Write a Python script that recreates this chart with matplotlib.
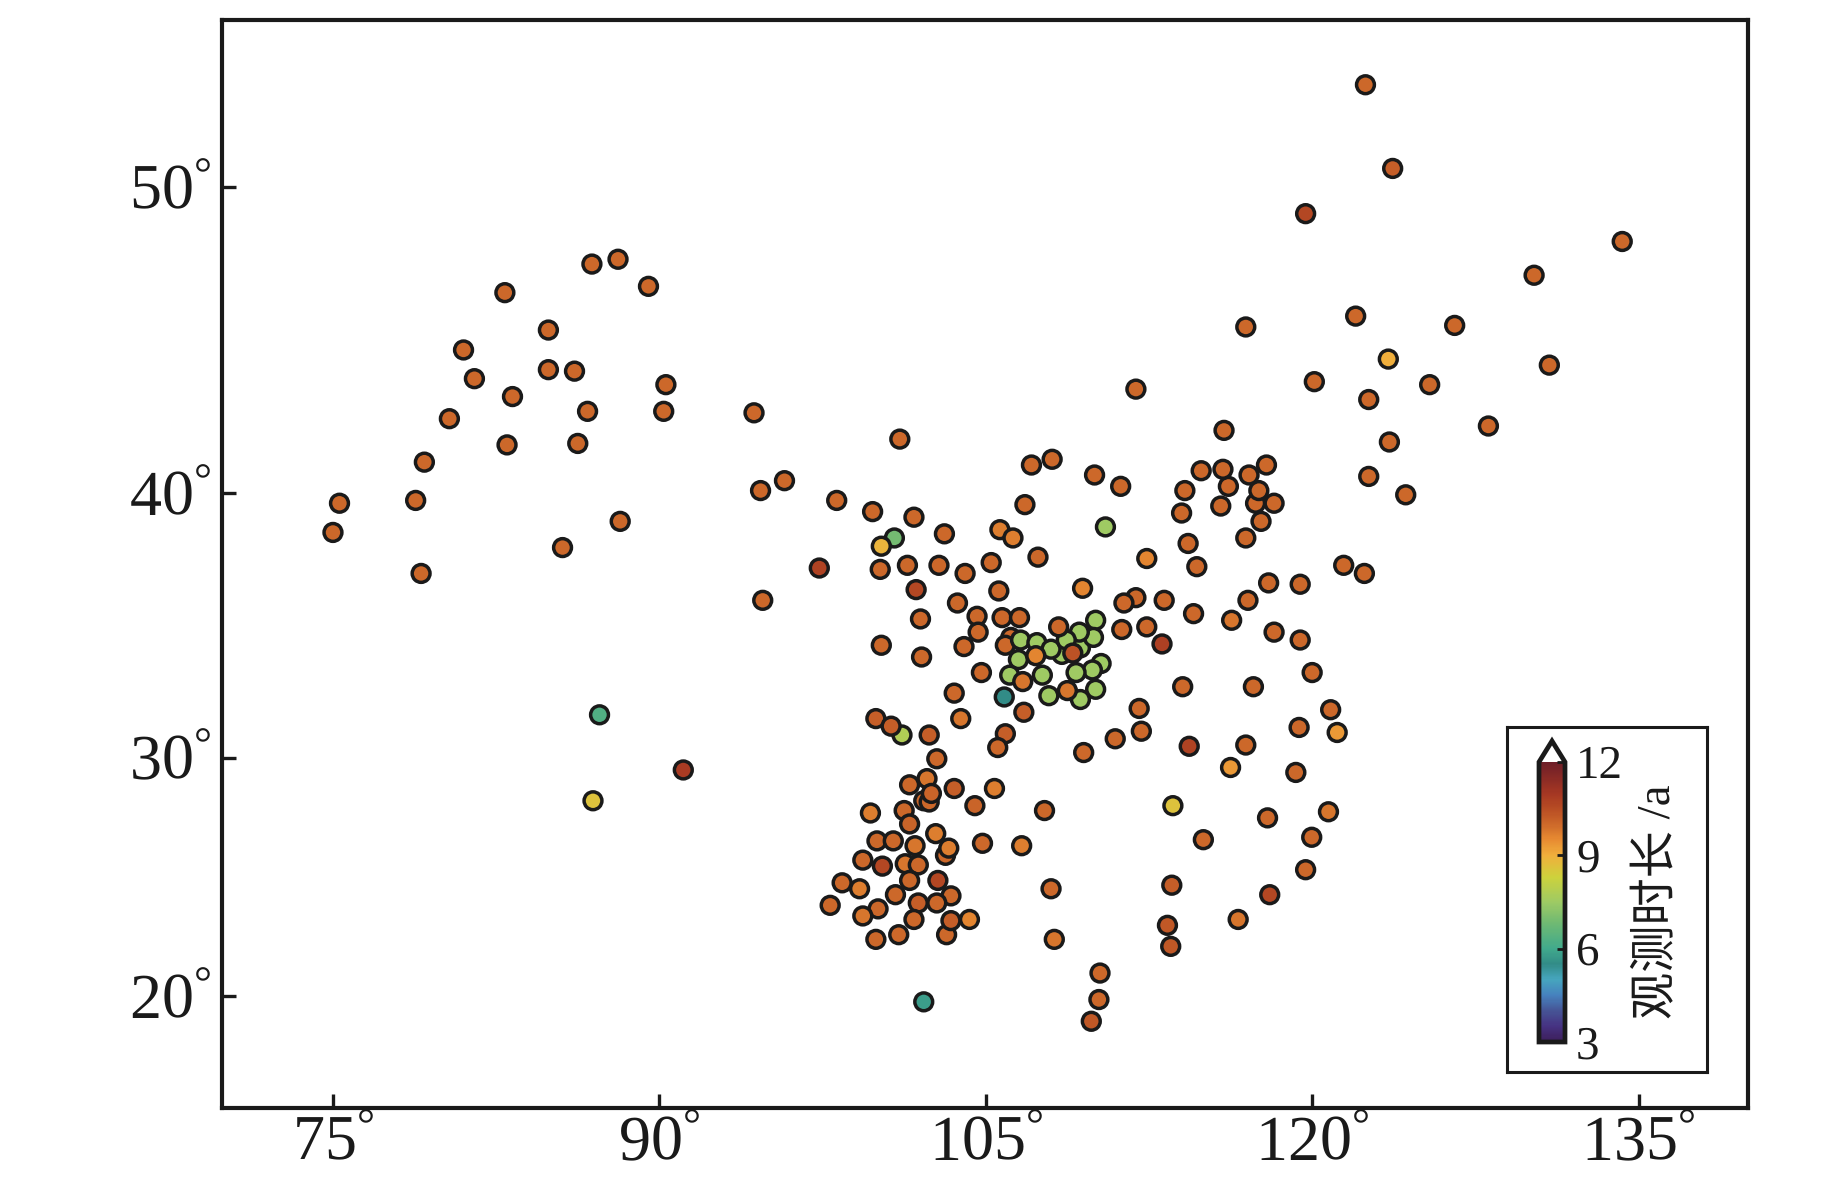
"""Station map: observation length per site on a Mercator-style lat axis."""
import numpy as np
import matplotlib
matplotlib.use("Agg")
import matplotlib.pyplot as plt
from matplotlib.cm import ScalarMappable
from matplotlib.colors import LinearSegmentedColormap, Normalize

plt.rcParams["font.family"] = ["Liberation Serif", "Noto Sans CJK SC"]
plt.rcParams["text.hinting"] = "no_hinting"
plt.rcParams["text.hinting_factor"] = 1
plt.rcParams["mathtext.fontset"] = "custom"
plt.rcParams["mathtext.rm"] = "Liberation Serif"

lon = [
    75.0, 75.3, 78.8, 79.05, 79.2, 80.35, 81.0, 81.5, 83.0, 83.25,
    82.9, 84.9, 84.9, 86.1, 86.25, 86.7, 86.9, 88.1, 89.5, 90.3,
    90.2, 85.55, 88.2, 87.25, 86.95, 91.1, 94.35, 94.65, 95.75, 94.75,
    97.35, 98.15, 99.8, 101.7, 101.05, 100.8, 100.2, 100.15, 101.4, 102.85,
    103.1, 104.05, 101.8, 102.0, 103.7, 105.25, 105.65, 106.25, 106.8, 107.1,
    108.05, 107.4, 105.6, 104.6, 104.65, 105.75, 106.55, 100.2, 104.0, 102.05,
    104.8, 103.55, 103.85, 101.15, 99.95, 100.65, 102.4, 102.75, 106.15, 105.9,
    106.6, 107.35, 106.5, 106.1, 107.6, 107.9, 108.5, 109.35, 110.3, 109.9,
    108.0, 109.15, 110.05, 109.35, 110.05, 109.95, 109.3, 108.7, 107.3, 106.7,
    108.35, 109.0, 108.75, 105.85, 106.75, 110.5, 109.45, 112.4, 114.3, 114.7,
    111.9, 111.35, 113.2, 114.55, 116.3, 111.25, 112.4, 113.1, 114.05, 112.05,
    112.15, 110.95, 109.5, 114.35, 116.25, 113.6, 105.9, 105.55, 102.3, 101.5,
    102.15, 102.4, 102.5, 103.55, 105.4, 104.5, 107.7, 99.7, 101.25, 101.5,
    102.7, 100.0, 100.75, 101.75, 103.15, 103.3, 104.85, 106.65, 99.35, 100.25,
    101.3, 101.9, 101.5, 102.8, 98.4, 99.2, 100.85, 103.4, 101.9, 102.75,
    97.85, 100.05, 99.35, 101.7, 103.2, 104.25, 103.4, 99.95, 101.0, 102.15,
    108.0, 108.15, 110.25, 110.2, 109.85, 113.35, 113.5, 113.55, 116.6, 118.05,
    119.7, 119.98, 115.0, 117.95, 120.75, 119.25, 116.95, 119.4, 120.85, 121.15,
    120.0, 117.3, 118.25, 119.45, 117.05, 118.0, 119.45, 121.45, 122.4, 116.95,
    117.65, 118.25, 117.4, 115.8, 117.55, 116.15, 115.9, 114.9, 117.1, 117.9,
    115.95, 114.0, 114.15, 110.0, 111.2, 111.9, 116.95, 120.1, 122.0, 123.5,
    122.6, 123.55, 122.6, 124.3, 125.4, 126.55, 128.1, 130.2, 130.9, 134.25,
    119.7, 123.7, 122.45,
]
lat = [
    38.6, 39.65, 39.75, 37.1, 41.1, 42.6, 44.9, 43.95, 41.7, 43.35,
    46.75, 45.55, 44.25, 44.2, 41.75, 42.85, 47.65, 47.8, 46.95, 43.75,
    42.85, 38.05, 39.0, 31.7, 28.25, 29.5, 42.8, 40.1, 40.45, 36.1,
    37.3, 39.75, 39.35, 39.15, 41.9, 38.4, 38.1, 37.25, 37.4, 37.4,
    38.55, 37.1, 36.5, 35.4, 36.0, 37.5, 38.7, 38.4, 39.6, 41.0,
    41.2, 37.7, 36.45, 35.5, 34.9, 35.45, 35.45, 34.4, 34.35, 33.95,
    33.35, 32.55, 31.55, 30.9, 31.55, 31.25, 30.9, 29.95, 34.7, 34.4,
    34.6, 34.5, 33.85, 33.25, 33.25, 32.45, 34.05, 34.3, 33.7, 33.45,
    34.25, 33.35, 32.7, 32.3, 35.35, 34.7, 34.9, 34.6, 34.0, 33.0,
    35.1, 34.1, 32.65, 32.4, 31.8, 38.8, 36.55, 37.65, 38.2, 37.35,
    36.2, 36.0, 36.1, 35.6, 35.35, 35.0, 35.1, 34.45, 32.8, 31.95,
    31.05, 30.75, 30.2, 30.45, 29.6, 28.05, 30.95, 30.4, 29.15, 28.9,
    28.25, 28.2, 28.55, 28.75, 28.75, 28.05, 27.85, 27.75, 27.85, 27.3,
    26.9, 26.6, 26.6, 26.4, 26.0, 26.3, 26.5, 26.4, 25.8, 25.55,
    25.65, 25.6, 24.95, 24.95, 24.85, 24.6, 24.35, 24.3, 24.0, 24.0,
    23.9, 23.75, 23.45, 23.3, 22.65, 23.3, 23.25, 22.45, 22.65, 19.75,
    24.6, 22.45, 21.0, 19.85, 18.9, 23.05, 22.15, 24.75, 23.3, 24.35,
    25.4, 26.75, 26.65, 27.55, 27.8, 29.4, 30.5, 31.2, 31.9, 31.0,
    33.35, 32.8, 34.9, 34.6, 36.1, 36.75, 36.7, 37.4, 37.1, 38.4,
    39.0, 39.65, 39.65, 39.55, 40.1, 40.25, 40.85, 40.8, 40.65, 41.0,
    42.2, 39.3, 40.1, 40.65, 40.25, 43.6, 45.65, 43.85, 46.0, 44.6,
    43.25, 41.8, 40.6, 39.95, 43.75, 45.7, 42.35, 47.3, 44.4, 48.35,
    49.2, 50.55, 52.95,
]
years = [
    10, 10, 10, 10, 10, 10, 10, 10, 10, 10,
    10, 10, 10, 10, 10, 10, 10, 10, 10, 10,
    10, 10, 10, 6.3, 8.6, 10.9, 10, 10, 10, 10,
    10.7, 10, 10, 10, 10, 6.9, 8.9, 10, 10, 10,
    10, 10, 10.6, 10, 10, 10, 9.7, 9.7, 10, 10,
    10, 10, 10, 10, 10, 10, 10, 10, 10, 10,
    10, 10, 9.8, 7.8, 10.2, 10.2, 10.2, 10, 10, 10,
    7.5, 7.5, 7.5, 7.5, 7.5, 7.5, 7.5, 7.5, 7.5, 7.5,
    7.5, 7.5, 7.5, 7.5, 7.5, 7.5, 7.5, 7.5, 9.6, 9.8,
    10, 10.4, 9.8, 5.5, 10.2, 7.5, 9.6, 9.6, 10, 10,
    10, 10, 10, 10, 9.8, 10, 10, 10.8, 10, 10,
    10, 10, 10, 10.7, 9.3, 8.6, 10.2, 10, 9.8, 10,
    10, 10, 10.1, 10.2, 9.7, 10.1, 10, 9.7, 10, 10.1,
    9.7, 10, 10, 9.8, 10, 9.7, 10, 9.7, 10, 10.6,
    9.8, 10, 10, 10.6, 10, 9.7, 10, 10, 10.2, 10,
    10, 10, 9.8, 10, 10, 9.6, 10.2, 10, 10, 5.8,
    10, 9.8, 10, 10, 10.3, 10.3, 10.3, 10.2, 9.8, 10.6,
    10, 10, 10, 10, 9.8, 10, 10, 10, 10, 9.3,
    10, 10, 10, 10, 10, 10, 10, 10, 10, 10,
    10, 10, 10, 10, 10, 10, 10, 10, 10, 10,
    10, 10, 10, 10, 10, 10, 10, 10, 10, 9.0,
    10, 10, 10, 10, 10, 10, 10, 10, 10, 10,
    10.6, 10.2, 10,
]

lon_ticks = [75, 90, 105, 120, 135]
lat_ticks = [20, 30, 40, 50]
cbar_ticks = [3, 6, 9, 12]

# colour stops (year value, rgb)
bar_stops = [
    (3.0, (60, 30, 90)), (3.5, (70, 50, 130)), (4.0, (70, 85, 150)),
    (4.5, (70, 130, 190)), (5.0, (70, 165, 190)), (5.5, (50, 140, 135)),
    (6.0, (65, 170, 140)), (6.8, (110, 185, 115)), (7.5, (158, 202, 100)),
    (8.3, (205, 210, 60)), (9.0, (240, 175, 60)), (9.5, (232, 140, 50)),
    (10.0, (205, 105, 42)), (10.6, (180, 72, 35)), (11.0, (165, 55, 35)),
    (12.0, (110, 30, 40)),
]
cmap = LinearSegmentedColormap.from_list(
    "obs", [((v - 3) / 9, tuple(c / 255 for c in rgb)) for v, rgb in bar_stops], N=256
)
cmap.set_over("white")
norm = Normalize(3, 12)


def merc(deg):
    return np.log(np.tan(np.radians(45 + np.asarray(deg) / 2)))


def merc_inv(y):
    return 2 * np.degrees(np.arctan(np.exp(np.asarray(y)))) - 90


def deg_label(v):
    return rf"$\mathregular{{{v}^{{°}}}}$"


W, H = 1843, 1181
ink = "#1a1a1a"
fig = plt.figure(figsize=(W / 100, H / 100), dpi=100)


def px_axes(x0, y0, x1, y1):
    return fig.add_axes([x0 / W, 1 - y1 / H, (x1 - x0) / W, (y1 - y0) / H])


ax = px_axes(222, 20, 1748, 1107.5)
ax.set_yscale("function", functions=(merc, merc_inv))
ax.scatter(lon, lat, c=years, cmap=cmap, norm=norm, s=165, edgecolors=ink, linewidths=2.5, zorder=3)
ax.set_xlim(69.9, 140.03)
ax.set_ylim(15.08, 54.72)
ax.set_xticks(lon_ticks)
ax.set_xticklabels([deg_label(v) for v in lon_ticks])
ax.set_yticks(lat_ticks)
ax.set_yticklabels([deg_label(v) for v in lat_ticks])
ax.minorticks_off()
ax.tick_params(direction="in", length=10, width=2.4, color=ink, labelcolor=ink, labelsize=46)
ax.tick_params(axis="x", pad=6)
ax.tick_params(axis="y", pad=8)
for side in ax.spines.values():
    side.set_linewidth(3)
    side.set_color(ink)

# legend box with the colour bar inside
box = px_axes(1507, 727, 1707, 1072)
box.set_xticks([])
box.set_yticks([])
box.set_zorder(5)
for side in box.spines.values():
    side.set_linewidth(2.2)
    side.set_color(ink)

cax = px_axes(1539, 741, 1565, 1042)
cax.set_zorder(6)
cb = fig.colorbar(
    ScalarMappable(norm=norm, cmap=cmap), cax=cax, extend="max", extendfrac=0.075, ticks=cbar_ticks
)
cb.outline.set_linewidth(3.4)
cb.outline.set_edgecolor(ink)
cb.ax.tick_params(direction="in", length=6, width=2, color=ink, labelcolor=ink, labelsize=34, pad=8)
cb.set_label("观测时长 /a", fontsize=34, color=ink, labelpad=10)

fig.savefig("out.png", dpi=100)
